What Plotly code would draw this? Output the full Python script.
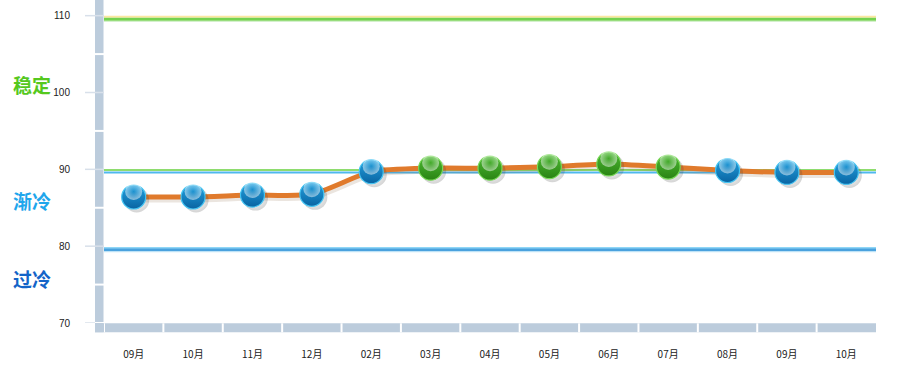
import plotly.graph_objects as go

months = ["09月", "10月", "11月", "12月", "02月", "03月", "04月", "05月", "06月", "07月", "08月", "09月", "10月"]
values = [86.4, 86.4, 86.65, 86.75, 89.7, 90.15, 90.15, 90.35, 90.7, 90.3, 89.85, 89.6, 89.6]
y_ticks = [70, 80, 90, 100, 110]
zone_names = ["稳定", "渐冷", "过冷"]
zone_label_y = [101.1, 86.0, 75.8]
zone_colors = ["#55C81E", "#1EA6EC", "#1464C8"]
thresholds = [110, 90, 80]

W, H = 897, 377
L, R, T, B = 104, 21, 0, 54
plot_w = W - L - R
plot_h = H - T - B
y_min, y_max = 70, 112.04
upp = (y_max - y_min) / plot_h  # data units per pixel (y)
xpp = 13 / plot_w               # data units per pixel (x)

x = list(range(len(months)))

def px_off(v, p):
    return v - p * upp

fig = go.Figure()

shapes = []
line_styles = {
    110: [(1.2, "#FBE7A0", 2), (3.5, "#74D24F", 3), (5.8, "#D4F0CC", 1)],
    90: [(0.7, "#8EDC6E", 2), (3.2, "#4FB8EE", 2)],
    80: [(1.8, "#90D6F6", 2), (3.8, "#4AA2DE", 3), (5.6, "#C8E8F8", 1)],
}
for t in thresholds:
    for off, col, w in line_styles[t]:
        shapes.append(dict(type="line", xref="paper", yref="y", x0=0, x1=1,
                           y0=px_off(t, off), y1=px_off(t, off),
                           line=dict(color=col, width=w), layer="below"))

bar_col = "#BCCCDC"
vx0 = -9 / plot_w
shapes.append(dict(type="rect", xref="paper", yref="paper", x0=vx0, x1=-0.5 / plot_w,
                   y0=-9.3 / plot_h, y1=1, fillcolor=bar_col, line=dict(width=0)))
shapes.append(dict(type="rect", xref="paper", yref="paper", x0=vx0, x1=1,
                   y0=-9.3 / plot_h, y1=-0.3 / plot_h, fillcolor=bar_col, line=dict(width=0)))
for v in range(75, 111, 10):
    shapes.append(dict(type="line", xref="paper", yref="y", x0=vx0, x1=0,
                       y0=v, y1=v, line=dict(color="#FFFFFF", width=2)))
for v in y_ticks:
    shapes.append(dict(type="line", xref="paper", yref="y", x0=-19 / plot_w, x1=0,
                       y0=v, y1=v, line=dict(color="#D8E0EA", width=1.5)))
shapes.append(dict(type="line", xref="paper", yref="y", x0=vx0, x1=0,
                   y0=70, y1=70, line=dict(color="#FFFFFF", width=2)))
for k in range(len(months)):
    shapes.append(dict(type="line", xref="x", yref="paper", x0=k - 0.5, x1=k - 0.5,
                       y0=-9.3 / plot_h, y1=-0.3 / plot_h, line=dict(color="#FFFFFF", width=2)))

fig.add_trace(go.Scatter(x=[xi + 1.5 * xpp for xi in x], y=[px_off(v, 2.5) for v in values],
                         mode="lines", line=dict(color="rgba(120,80,40,0.15)", width=6, shape="spline", smoothing=0.6),
                         hoverinfo="skip", showlegend=False))
fig.add_trace(go.Scatter(x=x, y=values, mode="lines",
                         line=dict(color="#E07A2C", width=5, shape="spline", smoothing=0.6),
                         hoverinfo="skip", showlegend=False))

fig.add_trace(go.Scatter(x=[xi + 3 * xpp for xi in x], y=[px_off(v, 3) for v in values],
                         mode="markers",
                         marker=dict(size=25, color="rgba(60,60,60,0.22)",
                                     gradient=dict(type="radial", color="rgba(60,60,60,0.0)"),
                                     line=dict(width=0)),
                         hoverinfo="skip", showlegend=False))

top = ["#4CB832" if v >= 90 else "#22A2E0" for v in values]
bottom = ["#2A8414" if v >= 90 else "#0A64A2" for v in values]
rim = ["#78D858" if v >= 90 else "#46C4F2" for v in values]

fig.add_trace(go.Scatter(x=x, y=values, mode="markers",
                         marker=dict(size=24, color=top,
                                     gradient=dict(type="vertical", color=bottom),
                                     line=dict(width=1.2, color=rim)),
                         hovertemplate="%{y}<extra></extra>", showlegend=False))
fig.add_trace(go.Scatter(x=x, y=[px_off(v, -5.5) for v in values], mode="markers",
                         marker=dict(size=17, color="rgba(255,255,255,0.5)",
                                     gradient=dict(type="radial", color="rgba(255,255,255,0.0)"),
                                     line=dict(width=0)),
                         hoverinfo="skip", showlegend=False))

annotations = []
for name, yv, col in zip(zone_names, zone_label_y, zone_colors):
    annotations.append(dict(xref="paper", yref="y", x=(11 - L) / plot_w, y=yv,
                            xanchor="left", yanchor="middle", text="<b>%s</b>" % name,
                            showarrow=False,
                            font=dict(family="Noto Sans CJK SC", size=19, color=col)))

fig.update_layout(
    width=W, height=H,
    margin=dict(l=L, r=R, t=T, b=B),
    paper_bgcolor="white", plot_bgcolor="white",
    shapes=shapes, annotations=annotations,
    showlegend=False,
    xaxis=dict(range=[-0.5, 12.5], tickmode="array", tickvals=x, ticktext=months,
               showgrid=False, zeroline=False, showline=False, ticks="", automargin=False,
               ticklabelstandoff=24,
               tickfont=dict(family="Noto Sans CJK SC, Liberation Sans", size=10, color="#222222")),
    yaxis=dict(range=[y_min, y_max], tickmode="array", tickvals=y_ticks,
               showgrid=False, zeroline=False, showline=False, ticks="", automargin=False,
               ticklabelstandoff=33,
               tickfont=dict(family="Liberation Sans, Arial", size=10, color="#222222")),
)

fig.write_html("out.html", config={"displayModeBar": False},
               post_script="document.body.style.margin='0';")
